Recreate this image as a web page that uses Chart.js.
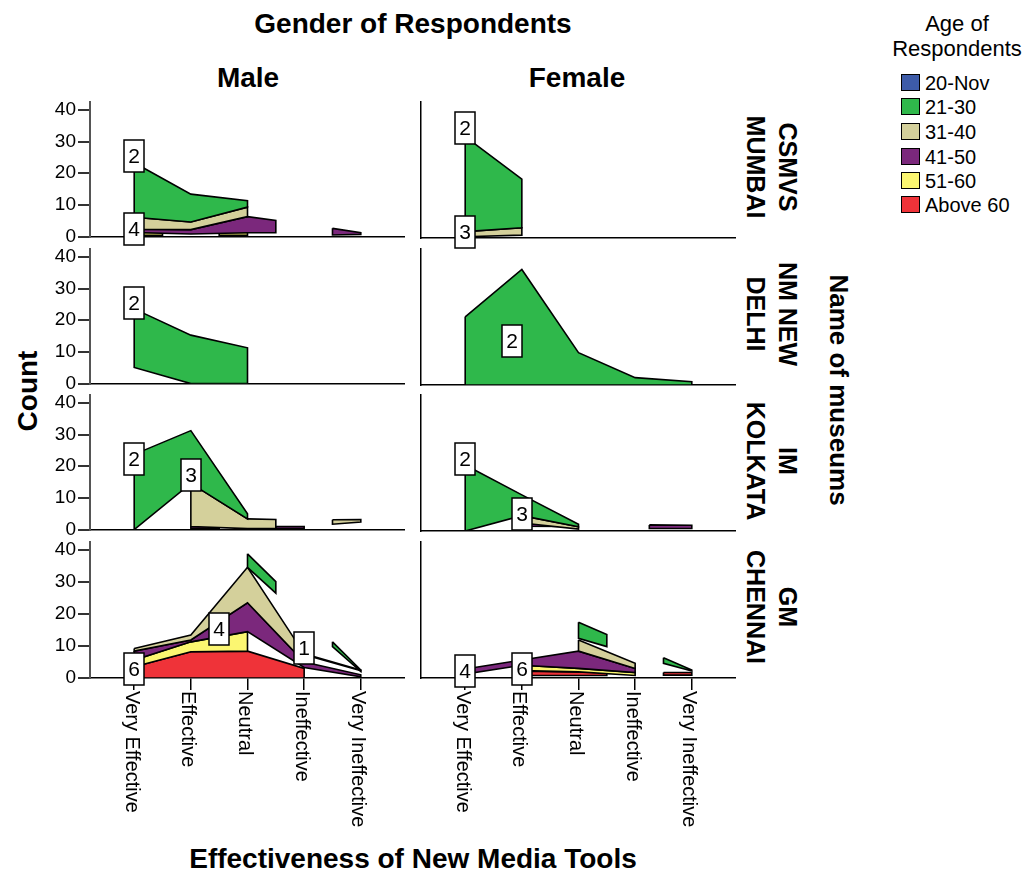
<!DOCTYPE html>
<html>
<head>
  <meta charset="utf-8" />
  <title>Effectiveness of New Media Tools</title>
  <script src="https://cdn.jsdelivr.net/npm/chart.js@4.4.1/dist/chart.umd.min.js"></script>
  <style>
    html, body { margin: 0; padding: 0; background: #fff; }
    body { width: 1031px; height: 875px; position: relative; overflow: hidden;
           font-family: "Liberation Sans", Arial, sans-serif; color: #000; }
    canvas { position: absolute; }
    .t { position: absolute; white-space: nowrap; font-weight: bold; transform: translate(-50%, -50%); }
    .rot { position: absolute; white-space: nowrap; font-weight: bold; text-align: center;
           transform: translate(-50%, -50%) rotate(90deg); }
    .legend-title { position: absolute; left: 957px; top: 11px; transform: translateX(-50%);
                    font-size: 22px; line-height: 25px; text-align: center; white-space: nowrap; }
    .legend-item { position: absolute; left: 901px; height: 20px; font-size: 20px; line-height: 20px; white-space: nowrap; }
    .legend-item span.sw { position: absolute; left: 0; top: 1px; width: 19px; height: 17px;
                           box-sizing: border-box; border: 1.5px solid #000; }
    .legend-item span.tx { position: absolute; left: 24px; top: 0; }
  </style>
</head>
<body>
  <div class="t" style="left:413px; top:24px; font-size:28px; line-height:28px;">Gender of Respondents</div>
  <div class="t" style="left:248px; top:78px; font-size:28px; line-height:28px;">Male</div>
  <div class="t" style="left:577px; top:78px; font-size:28px; line-height:28px;">Female</div>
  <div class="t" style="left:28px; top:391px; font-size:28px; line-height:28px; transform: translate(-50%, -50%) rotate(-90deg);">Count</div>
  <div class="t" style="left:413px; top:859px; font-size:28px; line-height:28px;">Effectiveness of New Media Tools</div>
  <div class="rot" style="left:839px; top:390px; font-size:26px; line-height:28px;">Name of museums</div>
  <div id="rowLabels"></div>
  <div class="legend-title">Age of<br>Respondents</div>
  <div id="legend"></div>

  <script>
    const categories = ['Very Effective', 'Effective', 'Neutral', 'Ineffective', 'Very Ineffective'];
    const ageGroups = ['20-Nov', '21-30', '31-40', '41-50', '51-60', 'Above 60'];
    const genders = ['Male', 'Female'];
    const museums = [['CSMVS', 'MUMBAI'], ['NM NEW', 'DELHI'], ['IM', 'KOLKATA'], ['GM', 'CHENNAI']];
    const yTicks = [0, 10, 20, 30, 40];

    // areas: [age group, x positions (1 = Very Effective ... 5 = Very Ineffective), upper counts, lower counts]
    const mumbaiMale = [
      ['51-60', [1, 1.5], [1.4, 1.3], [0.4, 0.4]],
      ['51-60', [2.5, 3], [1.3, 1.3], [0.4, 0.4]],
      ['41-50', [1, 2, 3, 3.5], [2.3, 2.2, 6.3, 5.1], [1.3, 0.8, 1.2, 1.2]],
      ['41-50', [4.5, 5], [2.6, 1.2], [0.5, 0.7]],
      ['31-40', [1, 2, 3], [6.1, 4.6, 9.3], [2.3, 2.2, 6.3]],
      ['21-30', [1, 2, 3], [23.3, 13.4, 11.3], [6.1, 4.6, 9.3]]
    ];
    const mumbaiFemale = [
      ['31-40', [1, 2], [2.0, 3.2], [0.4, 0.9]],
      ['21-30', [1, 2], [31.7, 18.4], [2.0, 3.2]]
    ];
    const delhiMale = [
      ['21-30', [1, 2, 3], [23.6, 15.3, 11.3], [5.1, 0, 0]]
    ];
    const delhiFemale = [
      ['21-30', [1, 2, 3, 4, 5], [21.3, 36.1, 10.1, 2.3, 1.0], [0, 0, 0, 0, 0]]
    ];
    const kolkataMale = [
      ['41-50', [2, 2.5], [1.0, 1.0], [0.3, 0.3]],
      ['41-50', [3.5, 4], [1.0, 1.0], [0.3, 0.3]],
      ['31-40', [2, 3, 3.5], [14.6, 3.4, 3.2], [1.0, 0.3, 0.3]],
      ['31-40', [4.5, 5], [3.1, 3.2], [1.7, 2.4]],
      ['21-30', [1, 2, 3], [23.75, 31.25, 5.0], [0, 14.6, 3.4]]
    ];
    const kolkataFemale = [
      ['41-50', [2, 2.75], [2.5, 2.4], [1.5, 1.4]],
      ['41-50', [4.25, 5], [1.9, 1.8], [0.8, 0.8]],
      ['31-40', [2, 3], [4.8, 1.3], [2.5, 0.6]],
      ['21-30', [1, 2, 3], [20.6, 11.3, 2.1], [0, 4.8, 1.3]]
    ];
    const chennaiMale = [
      ['Above 60', [1, 2, 3, 4], [3.5, 8.2, 8.4, 3.0], [0, 0, 0, 0]],
      ['51-60', [1, 2, 3], [5.6, 11.3, 14.5], [3.5, 8.2, 8.4]],
      ['41-50', [1, 2, 3, 4, 5], [8.4, 11.9, 23.5, 5.0, 1.0], [5.6, 11.3, 14.5, 3.3, 0.4]],
      ['31-40', [1, 2, 3, 4], [9.2, 13.4, 34.6, 7.6], [8.4, 11.9, 23.5, 5.0]],
      ['31-40', [4, 5], [7.6, 2.5], [7.3, 2.3]],
      ['21-30', [3, 3.5], [38.8, 30.1], [34.6, 26.5]],
      ['21-30', [4.5, 5], [11.3, 2.5], [9.8, 2.0]]
    ];
    const chennaiFemale = [
      ['Above 60', [2, 3.5], [2.1, 1.7], [0.8, 0.8]],
      ['Above 60', [4.5, 5], [1.7, 1.7], [0.9, 0.9]],
      ['51-60', [2, 3, 4], [4.0, 3.0, 1.7], [2.3, 1.9, 0.8]],
      ['41-50', [1, 2, 3, 4], [2.8, 5.6, 8.4, 3.0], [1.2, 4.0, 3.0, 1.7]],
      ['31-40', [3, 4], [11.9, 4.6], [8.4, 3.0]],
      ['21-30', [3, 3.5], [17.4, 13.6], [12.4, 9.8]],
      ['21-30', [4.5, 5], [6.3, 2.5], [4.6, 2.2]]
    ];

    // boxed data labels: [x position, count, text]
    const mumbaiMaleLabels = [[1, 25.4, '2'], [1, 2.5, '4']];
    const mumbaiFemaleLabels = [[1, 34.4, '2'], [1, 2.0, '3']];
    const delhiMaleLabels = [[1, 25.4, '2']];
    const delhiFemaleLabels = [[1.83, 13.7, '2']];
    const kolkataMaleLabels = [[1, 22.4, '2'], [2, 17.3, '3']];
    const kolkataFemaleLabels = [[1, 22.4, '2'], [2, 5.4, '3']];
    const chennaiMaleLabels = [[1, 2.8, '6'], [2.5, 15.2, '4'], [4, 9.5, '1']];
    const chennaiFemaleLabels = [[1, 2.2, '4'], [2, 2.8, '6']];

    const ageColors = {
      '20-Nov': '#3d5ba8', '21-30': '#2fb84b', '31-40': '#d4d09b',
      '41-50': '#7b287c', '51-60': '#fbf671', 'Above 60': '#ef3339'
    };

    const panels = [
      [mumbaiMale, mumbaiMaleLabels], [mumbaiFemale, mumbaiFemaleLabels],
      [delhiMale, delhiMaleLabels], [delhiFemale, delhiFemaleLabels],
      [kolkataMale, kolkataMaleLabels], [kolkataFemale, kolkataFemaleLabels],
      [chennaiMale, chennaiMaleLabels], [chennaiFemale, chennaiFemaleLabels]
    ];

    // layout
    const rowTops = [102, 249, 395, 542];
    const plotH = 136;
    const colLefts = [90, 421];
    const plotW = 315;
    const padTop = 14;

    Chart.defaults.font.family = '"Liberation Sans", Arial, sans-serif';
    Chart.defaults.color = '#000';

    const boxLabelPlugin = (items) => ({
      id: 'boxLabels',
      afterDatasetsDraw(chart) {
        const { ctx, scales: { x, y } } = chart;
        ctx.save();
        ctx.font = '21px "Liberation Sans", Arial, sans-serif';
        ctx.textAlign = 'center';
        ctx.textBaseline = 'middle';
        items.forEach(([vx, vy, txt]) => {
          const px = Math.round(x.getPixelForValue(vx));
          const py = Math.round(y.getPixelForValue(vy));
          ctx.fillStyle = '#fff';
          ctx.fillRect(px - 10, py - 16, 20, 32);
          ctx.strokeStyle = '#000';
          ctx.lineWidth = 1.5;
          ctx.strokeRect(px - 10, py - 16, 20, 32);
          ctx.fillStyle = '#000';
          ctx.fillText(txt, px, py + 1);
        });
        ctx.restore();
      }
    });

    const categoryLabelPlugin = {
      id: 'catLabels',
      afterDraw(chart) {
        const { ctx, chartArea, scales: { x } } = chart;
        ctx.save();
        ctx.font = '20px "Liberation Sans", Arial, sans-serif';
        ctx.fillStyle = '#000';
        ctx.textAlign = 'left';
        ctx.textBaseline = 'middle';
        categories.forEach((c, i) => {
          ctx.save();
          ctx.translate(x.getPixelForValue(i + 1) - 3, chartArea.bottom + 13);
          ctx.rotate(Math.PI / 2);
          ctx.fillText(c, 0, 0);
          ctx.restore();
        });
        ctx.restore();
      }
    };

    const toDatasets = (areas) => areas.map(([group, xs, top, bottom], i) => {
      const pts = xs.map((x, k) => ({ x: x, y: top[k] }));
      for (let k = xs.length - 1; k >= 0; k--) pts.push({ x: xs[k], y: bottom[k] });
      pts.push(pts[0]);
      return {
        label: group,
        data: pts,
        fill: 'shape',
        backgroundColor: ageColors[group],
        borderColor: '#000',
        borderWidth: 1.6,
        pointRadius: 0,
        tension: 0,
        order: areas.length - i
      };
    });

    panels.forEach(([areas, labels], p) => {
      const row = Math.floor(p / 2);
      const col = p % 2;
      const last = row === 3;
      const axisW = col === 0 ? 60 : 10;
      const bottomSpace = last ? 165 : 12;

      const canvas = document.createElement('canvas');
      canvas.width = axisW + plotW;
      canvas.height = padTop + plotH + bottomSpace;
      canvas.style.left = (colLefts[col] - axisW) + 'px';
      canvas.style.top = (rowTops[row] - padTop) + 'px';
      canvas.style.width = canvas.width + 'px';
      canvas.style.height = canvas.height + 'px';
      document.body.appendChild(canvas);

      const plugins = [boxLabelPlugin(labels)];
      if (last) plugins.push(categoryLabelPlugin);

      new Chart(canvas, {
        type: 'line',
        data: { datasets: toDatasets(areas) },
        plugins: plugins,
        options: {
          responsive: false,
          animation: false,
          events: [],
          layout: { padding: { top: padTop, bottom: last ? 0 : 12, left: 0, right: 0 } },
          plugins: { legend: { display: false }, tooltip: { enabled: false } },
          scales: {
            x: {
              type: 'linear', min: 0.22, max: 5.78,
              afterBuildTicks: (s) => { s.ticks = categories.map((c, i) => ({ value: i + 1 })); },
              afterFit: (s) => { s.height = last ? bottomSpace : 0; },
              ticks: { display: false },
              grid: { display: last, drawOnChartArea: false, drawTicks: true, tickLength: 12, color: '#000', lineWidth: 1.5 },
              border: { display: true, color: '#000', width: 1.5 }
            },
            y: {
              min: 0, max: 42.5,
              afterBuildTicks: (s) => { s.ticks = yTicks.map(v => ({ value: v })); },
              afterFit: (s) => { s.width = axisW; },
              ticks: { display: col === 0, font: { size: 19 }, color: '#000', padding: 2 },
              grid: { display: col === 0, drawOnChartArea: false, tickLength: 12, color: '#333', lineWidth: 2 },
              border: { display: true, color: col === 0 ? '#555' : '#000', width: col === 0 ? 2 : 1.5 }
            }
          }
        }
      });
    });

    // museum strip labels
    const rowCenters = [167, 314, 461, 607];
    const rowBox = document.getElementById('rowLabels');
    museums.forEach((m, i) => {
      const d = document.createElement('div');
      d.className = 'rot';
      d.style.left = '772px';
      d.style.top = rowCenters[i] + 'px';
      d.style.fontSize = '25px';
      d.style.lineHeight = '32px';
      d.innerHTML = m[0] + '<br>' + m[1];
      rowBox.appendChild(d);
    });

    // legend
    const legendBox = document.getElementById('legend');
    const legendCenters = [83, 107, 132, 157, 181, 205];
    ageGroups.forEach((g, i) => {
      const d = document.createElement('div');
      d.className = 'legend-item';
      d.style.top = (legendCenters[i] - 10) + 'px';
      d.innerHTML = '<span class="sw" style="background:' + ageColors[g] + '"></span><span class="tx">' + g + '</span>';
      legendBox.appendChild(d);
    });
  </script>
</body>
</html>
